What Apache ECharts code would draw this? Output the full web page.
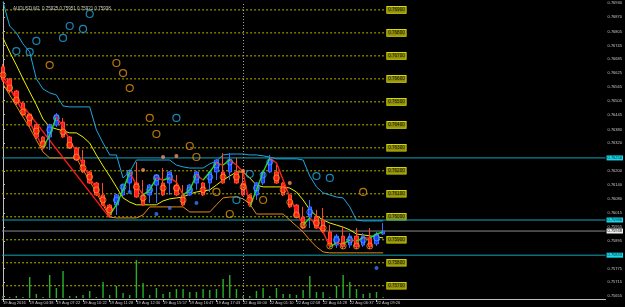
<!DOCTYPE html>
<html><head><meta charset="utf-8">
<script src="https://cdn.jsdelivr.net/npm/echarts@6/dist/echarts.min.js"></script>
<style>html,body{margin:0;padding:0;background:#000;}#c{width:625px;height:307px;}</style>
</head><body><div id="c"></div>
<script>
// ---------- data ----------
const candleOpen = [0.76652,0.76599,0.76547,0.76495,0.76447,0.76399,0.76347,0.76347,0.76399,0.76412,
0.76347,0.76299,0.76247,0.76195,0.76147,0.76095,0.76051,0.76051,0.76095,0.76147,
0.76147,0.76095,0.76095,0.76138,0.76147,0.76147,0.76138,0.76095,0.76095,0.76147,
0.76147,0.76147,0.76195,0.76195,0.76195,0.76195,0.76147,0.76095,0.76095,0.76147,
0.76195,0.76195,0.76147,0.76095,0.76051,0.75999,0.75999,0.75999,0.75986,0.75934,
0.75877,0.75916,0.75877,0.75916,0.75877,0.75908,0.75882,0.75925];
const candleClose = [0.76595,0.76547,0.76495,0.76443,0.76399,0.76347,0.76299,0.76399,0.76443,0.76347,
0.76299,0.76247,0.76195,0.76147,0.76095,0.76051,0.76008,0.76095,0.76138,0.76195,
0.76086,0.76051,0.76138,0.76182,0.76095,0.76195,0.76095,0.76051,0.76138,0.76195,
0.76095,0.76195,0.76247,0.76147,0.76247,0.76147,0.76095,0.76051,0.76147,0.76195,
0.76247,0.76147,0.76095,0.76043,0.75999,0.75951,0.76043,0.75951,0.75934,0.75877,
0.75916,0.75869,0.75916,0.75869,0.75916,0.75869,0.75925,0.75938];
const candleLow = [0.76586,0.76538,0.76486,0.76434,0.76391,0.76338,0.76291,0.76291,0.76391,0.76343,
0.76295,0.76243,0.76190,0.76143,0.76090,0.76047,0.75999,0.76008,0.76090,0.76108,
0.76082,0.76047,0.76060,0.76060,0.76090,0.76095,0.76090,0.76047,0.76090,0.76117,
0.76090,0.76108,0.76160,0.76143,0.76160,0.76143,0.76090,0.76043,0.76073,0.76138,
0.76190,0.76143,0.76090,0.76038,0.75995,0.75947,0.75951,0.75947,0.75929,0.75864,
0.75864,0.75860,0.75864,0.75860,0.75869,0.75860,0.75873,0.75921];
const candleHigh = [0.76665,0.76604,0.76552,0.76499,0.76451,0.76404,0.76351,0.76404,0.76451,0.76430,
0.76351,0.76304,0.76291,0.76199,0.76151,0.76147,0.76056,0.76099,0.76143,0.76204,
0.76238,0.76160,0.76143,0.76186,0.76212,0.76199,0.76182,0.76138,0.76143,0.76199,
0.76151,0.76199,0.76251,0.76277,0.76277,0.76256,0.76204,0.76099,0.76151,0.76199,
0.76269,0.76225,0.76151,0.76099,0.76056,0.76043,0.76073,0.76030,0.76038,0.75964,
0.75925,0.75960,0.75929,0.75951,0.75929,0.75951,0.75934,0.75973];
const volumes = [2,1,2,1,21,4,1,23,10,27,2,2,3,7,1,16,3,12,5,3,38,15,3,10,4,6,9,9,6,6,
9,8,9,19,23,9,2,2,7,10,2,10,4,4,3,8,22,6,6,1,12,23,16,9,4,5,6,1];
const candleMarks = [0.76617,0.76560,0.76508,0.76456,0.76430,0.76373,0.76317,0.76378,0.76430,0.76369,
0.76312,0.76260,0.76212,0.76173,0.76117,0.76073,0.76030,0.76073,0.76130,0.76190,
0.76130,0.76082,0.76117,0.76169,0.76125,0.76173,0.76125,0.76073,0.76117,0.76173,
0.76117,0.76173,0.76225,0.76173,0.76238,0.76173,0.76130,0.76073,0.76125,0.76182,
0.76238,0.76169,0.76117,0.76064,0.76008,0.75964,0.76021,0.75973,0.75951,0.75873,
0.75899,0.75873,0.75899,0.75873,0.75899,0.75873,0.75908,null];
const fastMA = [0.76617,0.76560,0.76508,0.76456,0.76412,0.76356,0.76299,0.76356,0.76434,0.76391,
0.76334,0.76282,0.76225,0.76173,0.76117,0.76064,0.76008,0.76052,0.76117,0.76195,
0.76138,0.76095,0.76117,0.76169,0.76160,0.76169,0.76151,0.76095,0.76117,0.76182,
0.76160,0.76195,0.76234,0.76225,0.76247,0.76225,0.76195,0.76043,0.76117,0.76195,
0.76256,0.76234,0.76160,0.76086,0.76021,0.75964,0.75995,0.75964,0.75934,0.75869,
0.75886,0.75882,0.75899,0.75895,0.75908,0.75908,0.75925,0.75934];
const slowMA = [0.76778,0.76717,0.76660,0.76600,0.76543,0.76487,0.76425,0.76391,0.76382,0.76374,
0.76365,0.76365,0.76347,0.76321,0.76269,0.76221,0.76177,0.76130,0.76082,0.76064,
0.76052,0.76052,0.76052,0.76052,0.76069,0.76078,0.76082,0.76086,0.76099,0.76108,
0.76112,0.76117,0.76138,0.76160,0.76177,0.76195,0.76195,0.76169,0.76138,0.76130,
0.76130,0.76130,0.76130,0.76125,0.76108,0.76073,0.76030,0.76004,0.75986,0.75973,
0.75964,0.75955,0.75943,0.75925,0.75921,0.75917,0.75912,0.75908];
const upperBand = [0.76935,0.76830,0.76800,0.76752,0.76717,0.76600,0.76556,0.76539,0.76530,0.76482,
0.76478,0.76478,0.76478,0.76478,0.76378,0.76321,0.76269,0.76269,0.76169,0.76195,
0.76247,0.76247,0.76247,0.76247,0.76247,0.76247,0.76225,0.76217,0.76212,0.76212,
0.76212,0.76230,0.76243,0.76269,0.76273,0.76273,0.76273,0.76269,0.76269,0.76265,
0.76260,0.76252,0.76252,0.76252,0.76252,0.76247,0.76177,0.76130,0.76104,0.76095,
0.76086,0.76082,0.76043,0.75986,0.75982,0.75982,0.75982,0.75982];
const lowerBand = [0.76578,0.76530,0.76482,0.76434,0.76387,0.76334,0.76282,0.76256,0.76256,0.76256,
0.76256,0.76256,0.76204,0.76156,0.76104,0.76052,0.75999,0.75995,0.75995,0.75995,
0.75995,0.76008,0.76043,0.76043,0.76043,0.76043,0.76043,0.76043,0.76021,0.76021,
0.76021,0.76021,0.76052,0.76082,0.76086,0.76086,0.76078,0.76056,0.76012,0.76012,
0.76012,0.76012,0.76012,0.75986,0.75960,0.75934,0.75899,0.75869,0.75847,0.75843,
0.75843,0.75843,0.75843,0.75843,0.75843,0.75843,0.75843,0.75843];
const trendIdx = [0, 16];
const trendVal = [0.76595, 0.75995];
const cyanRingIdx = [2,4,5,9,10,12,13,26,35,37,47,49];
const cyanRingVal = [0.76721,0.76717,0.76765,0.76778,0.76830,0.76817,0.76882,0.76430,0.76073,0.76186,0.76177,0.76169];
const orangeRingIdx = [7,17,18,19,22,23,28,29,32,34,39,54];
const orangeRingVal = [0.76660,0.76669,0.76625,0.76560,0.76430,0.76360,0.76308,0.76260,0.76108,0.76012,0.76073,0.76108];
const blueDotIdx = [19,23,25,29,56];
const blueDotVal = [0.76108,0.76012,0.76038,0.76060,0.75777];
const orangeDotIdx = [21,24,26,36,43];
const orangeDotVal = [0.76204,0.76260,0.76264,0.76199,0.76147];
const levels = [0.769,0.768,0.767,0.766,0.765,0.764,0.763,0.762,0.761,0.760,0.759,0.758,0.757];
const hLines = [0.76256, 0.75986, 0.75833];
const bidPrice = 0.75938;
const separatorIdx = 36;
const tickIdx = [0,4,8,12,16,20,24,28,32,36,40,44,48,52,56];
const timeLabels = ['19 Aug 2016','19 Aug 04:38','19 Aug 07:22','19 Aug 10:22','19 Aug 11:28','19 Aug 12:30',
'19 Aug 15:57','19 Aug 16:47','19 Aug 17:43','22 Aug 00:00','22 Aug 01:10','22 Aug 02:58','22 Aug 04:28',
'22 Aug 06:37','22 Aug 09:26'];
const priceTicks = [0.76930,0.76870,0.76805,0.76745,0.76685,0.76625,0.76565,0.76505,0.76445,0.76380,0.76320,
0.76200,0.76140,0.76080,0.76015,0.75955,0.75895,0.75775,0.75715,0.75655];
const titleText = 'AUDUSD,M2  0.75925 0.75951 0.75921 0.75938';

// ---------- layout ----------
const GRID = {left:0, right:17, top:2, bottom:8};
const PLOT_W = 625 - GRID.left - GRID.right;
const BAR_PX = 6.72, FIRST_PX = 0.9;
const X_MIN = (0 - FIRST_PX) / BAR_PX;
const X_MAX = (PLOT_W - FIRST_PX) / BAR_PX;
const Y_MIN = 0.7564235, Y_MAX = 0.769343;
const N = candleOpen.length;
const LEVEL_END = N - 0.55;
const UP = '#22dd22', DOWN = '#ff2020';

const idx = candleOpen.map((_, i) => i);
const pairs = arr => arr.map((v, i) => [i, v]);
const candleData = idx.map(i => [i, candleOpen[i], candleClose[i], candleLow[i], candleHigh[i]]);
const bearMarks = idx.filter(i => candleMarks[i] != null && candleClose[i] < candleOpen[i]).map(i => [i, candleMarks[i]]);
const bullMarks = idx.filter(i => candleMarks[i] != null && candleClose[i] >= candleOpen[i]).map(i => [i, candleMarks[i]]);

const series = [];
const lbl = {fontFamily:'Liberation Sans, Arial, sans-serif'};
levels.forEach(v => {
  series.push({type:'line', data:[[X_MIN, v],[LEVEL_END, v]], symbol:'none', silent:true, z:1,
    lineStyle:{color:'#b4b400', width:1, type:[2,2]},
    endLabel:{show:true, formatter: v.toFixed(5), distance:1, color:'#101000', fontSize:4.6,
      backgroundColor:'#8e8e0c', borderColor:'#e6e600', borderWidth:0.8, padding:[1,1,0,1], ...lbl}});
});
// full-width horizontal price lines with axis-side labels
hLines.forEach(v => {
  series.push({type:'line', data:[[X_MIN, v],[X_MAX, v]], symbol:'none', silent:true, z:2, clip:false,
    lineStyle:{color:'#16a3b6', width:1},
    endLabel:{show:true, formatter: v.toFixed(5), distance:1, color:'#002a30', fontSize:4,
      backgroundColor:'#18d8ea', padding:[1,1,0,1], ...lbl}});
});
series.push({type:'line', data:[[X_MIN, bidPrice],[X_MAX, bidPrice]], symbol:'none', silent:true, z:2, clip:false,
  lineStyle:{color:'#8a8a8a', width:1},
  endLabel:{show:true, formatter: bidPrice.toFixed(5), distance:1, color:'#000', fontSize:4,
    backgroundColor:'#f0f0f0', padding:[1,1,0,1], ...lbl}});
series.push({type:'line', name:'upper', data:pairs(upperBand), symbol:'none', z:2,
  lineStyle:{color:'#1ea6e0', width:1},
  markLine:{symbol:'none', silent:true, animation:false,
    data:[{xAxis:separatorIdx, lineStyle:{color:'#a0a0a0', width:1, type:[1,2]}, label:{show:false}}]}});
series.push({type:'line', data:pairs(lowerBand), symbol:'none', z:2, lineStyle:{color:'#e88a10', width:1}});
series.push({type:'line', data:pairs(slowMA), symbol:'none', z:3, lineStyle:{color:'#f0f000', width:1}});
series.push({type:'line', data:trendIdx.map((x, i) => [x, trendVal[i]]), symbol:'none', z:3, lineStyle:{color:'#ff1a1a', width:1.3}});
series.push({type:'bar', data:pairs(volumes), yAxisIndex:1, barWidth:1.4, z:2, itemStyle:{color:'#27b027'}});
series.push({type:'candlestick', data:candleData, encode:{x:0, y:[1,2,3,4]}, barWidth:4, z:4,
  itemStyle:{color:'#1c3cff', color0:'#ff1c1c', borderColor:'#3d6dff', borderColor0:'#ff4a2a', borderWidth:1}});
const maIndex = series.length;
series.push({type:'line', data:pairs(fastMA), symbol:'none', z:5, lineStyle:{width:1.4}});
series.push({type:'scatter', data:bearMarks, symbol:'circle', symbolSize:6, z:6,
  itemStyle:{color:'rgba(0,0,0,0)', borderColor:'#ff9a1a', borderWidth:1}});
series.push({type:'scatter', data:bullMarks, symbol:'circle', symbolSize:6, z:6,
  itemStyle:{color:'rgba(0,0,0,0)', borderColor:'#38a8ff', borderWidth:1}});
series.push({type:'scatter', data:cyanRingIdx.map((x, i) => [x, cyanRingVal[i]]), symbol:'circle', symbolSize:7, z:6,
  itemStyle:{color:'rgba(0,0,0,0)', borderColor:'#1fa9e4', borderWidth:1.2}});
series.push({type:'scatter', data:orangeRingIdx.map((x, i) => [x, orangeRingVal[i]]), symbol:'circle', symbolSize:7, z:6,
  itemStyle:{color:'rgba(0,0,0,0)', borderColor:'#e8920e', borderWidth:1.2}});
series.push({type:'scatter', data:blueDotIdx.map((x, i) => [x, blueDotVal[i]]), symbol:'circle', symbolSize:4, z:6,
  itemStyle:{color:'#3a78ff'}});
series.push({type:'scatter', data:orangeDotIdx.map((x, i) => [x, orangeDotVal[i]]), symbol:'circle', symbolSize:4, z:6,
  itemStyle:{color:'#ff9060'}});

const maPieces = fastMA.slice(1).map((v, i) => i === 0
  ? {gte:0, lte:1, color: v > fastMA[0] ? UP : DOWN}
  : {gt:i, lte:i + 1, color: v > fastMA[i] ? UP : DOWN});

const chart = echarts.init(document.getElementById('c'), null, {renderer:'canvas'});
chart.setOption({
  backgroundColor:'#000000',
  animation:false,
  title:{text:titleText, left:8, top:1, textStyle:{color:'#c8c8c8', fontSize:4.5, fontWeight:'normal', ...lbl}},
  grid:GRID,
  visualMap:[{type:'piecewise', show:false, dimension:0, seriesIndex:maIndex, pieces:maPieces, outOfRange:{color:DOWN}}],
  xAxis:{type:'value', min:X_MIN, max:X_MAX,
    axisLine:{show:true, onZero:false, lineStyle:{color:'#c0c0c0', width:1}},
    axisTick:{show:true, customValues:tickIdx, length:3, lineStyle:{color:'#c0c0c0'}},
    axisLabel:{show:true, customValues:tickIdx, formatter: v => timeLabels[tickIdx.indexOf(v)] || '',
      align:'left', color:'#c8c8c8', fontSize:4, margin:2, ...lbl},
    splitLine:{show:false}},
  yAxis:[{type:'value', position:'right', min:Y_MIN, max:Y_MAX,
    axisLine:{show:true, lineStyle:{color:'#c0c0c0', width:1}},
    axisTick:{show:true, customValues:priceTicks, length:2, lineStyle:{color:'#c0c0c0'}},
    axisLabel:{show:true, customValues:priceTicks, formatter: v => v.toFixed(5), color:'#c8c8c8', fontSize:4, margin:2, ...lbl},
    splitLine:{show:false}},
    {type:'value', min:-1, max:296, show:false, splitLine:{show:false}}],
  series:series
});
</script></body></html>
